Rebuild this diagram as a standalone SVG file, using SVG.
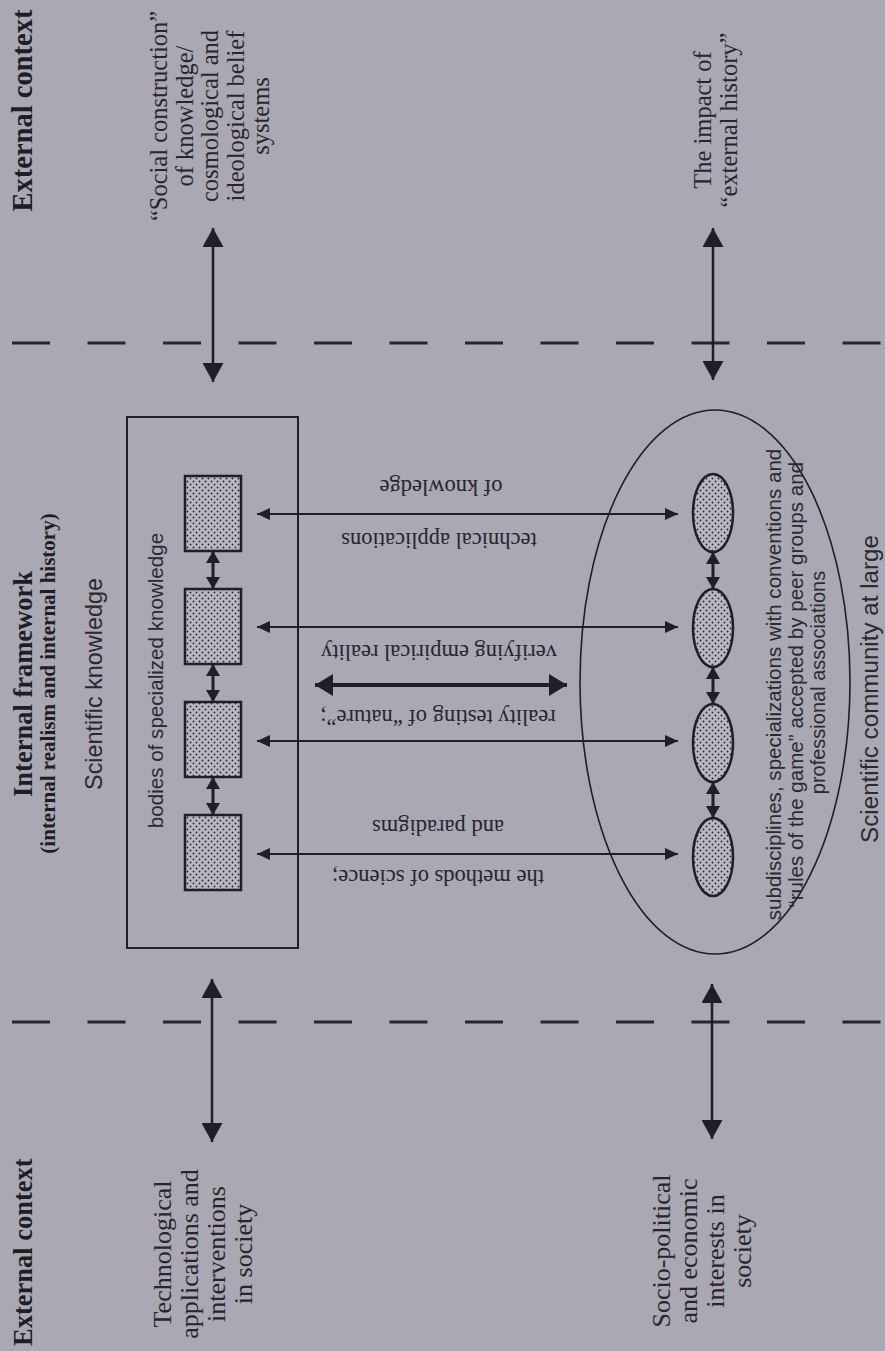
<svg xmlns="http://www.w3.org/2000/svg" width="885" height="1351" viewBox="0 0 885 1351">
<style>
.ser{font-family:"Liberation Serif","Times New Roman",serif;fill:#26262c}
.bold{font-family:"Liberation Serif","Times New Roman",serif;font-weight:bold;fill:#1e1e24}
.sans{font-family:"Liberation Sans",Arial,sans-serif;fill:#2a2a31}
.ln{stroke:#1f1f25;fill:none}
.dash{stroke:#26262c;stroke-width:3;stroke-dasharray:38 37.5}
.dot{fill:url(#dots);stroke:#1f1f25;stroke-width:2.5}
</style>
<defs>
<pattern id="dots" patternUnits="userSpaceOnUse" width="6" height="6">
<rect width="6" height="6" fill="#bab9c2"/>
<circle cx="1.5" cy="1.5" r="0.95" fill="#2a2a30"/>
<circle cx="4.5" cy="4.5" r="0.95" fill="#2a2a30"/>
</pattern>
<marker id="mBig" markerUnits="userSpaceOnUse" viewBox="0 0 19 21" markerWidth="19" markerHeight="21" refX="19" refY="10.5" orient="auto-start-reverse"><path d="M0,0 L19,10.5 L0,21 z" fill="#1f1f25"/></marker>
<marker id="mThick" markerUnits="userSpaceOnUse" viewBox="0 0 18 22" markerWidth="18" markerHeight="22" refX="18" refY="11" orient="auto-start-reverse"><path d="M0,0 L18,11 L0,22 z" fill="#1f1f25"/></marker>
<marker id="mMed" markerUnits="userSpaceOnUse" viewBox="0 0 13 12" markerWidth="13" markerHeight="12" refX="13" refY="6" orient="auto-start-reverse"><path d="M0,0 L13,6 L0,12 z" fill="#1f1f25"/></marker>
<marker id="mSmall" markerUnits="userSpaceOnUse" viewBox="0 0 12 14" markerWidth="12" markerHeight="14" refX="12" refY="7" orient="auto-start-reverse"><path d="M0,0 L12,7 L0,14 z" fill="#1f1f25"/></marker>
</defs>
<rect width="885" height="1351" fill="#a9a8b3"/>

<g id="dividers">
<line class="dash" x1="12" y1="343" x2="885" y2="343"/>
<line class="dash" x1="12" y1="1022" x2="885" y2="1022"/>
</g>

<g id="headings">
<text class="bold" font-size="28.5" text-anchor="middle" transform="translate(32,110.5) rotate(-90)">External context</text>
<text class="bold" font-size="26.5" text-anchor="middle" transform="translate(32,684) rotate(-90)">Internal framework</text>
<text class="bold" font-size="21" text-anchor="middle" transform="translate(55,683.5) rotate(-90)">(internal realism and internal history)</text>
<text class="bold" font-size="26.5" text-anchor="start" transform="translate(32,1346) rotate(-90)">External context</text>
</g>

<g id="scientific-knowledge">
<rect class="ln" x="127" y="417" width="171" height="531" stroke-width="2"/>
<text class="sans" font-size="23.4" text-anchor="middle" transform="translate(102,684) rotate(-90)">Scientific knowledge</text>
<text class="sans" font-size="20.6" text-anchor="middle" transform="translate(162.5,680.5) rotate(-90)">bodies of specialized knowledge</text>
</g>

<g id="body1"><rect class="dot" x="185" y="476" width="56" height="75"/></g>
<g id="body2"><rect class="dot" x="185" y="589" width="56" height="75"/></g>
<g id="body3"><rect class="dot" x="185" y="702" width="56" height="75"/></g>
<g id="body4"><rect class="dot" x="185" y="815" width="56" height="75"/></g>

<g id="scientific-community">
<ellipse class="ln" cx="715" cy="682" rx="135" ry="272" stroke-width="1.6"/>
<text class="sans" font-size="20.6" text-anchor="middle" transform="translate(781,684.5) rotate(-90)">subdisciplines, specializations with conventions and</text>
<text class="sans" font-size="20.6" text-anchor="middle" transform="translate(803,684.5) rotate(-90)">“rules of the game” accepted by peer groups and</text>
<text class="sans" font-size="20" text-anchor="middle" transform="translate(825,682.5) rotate(-90)">professional associations</text>
<text class="sans" font-size="24.2" text-anchor="middle" transform="translate(878,689) rotate(-90)">Scientific community at large</text>
</g>

<g id="sub1"><ellipse class="dot" cx="713" cy="513" rx="20" ry="39"/></g>
<g id="sub2"><ellipse class="dot" cx="713" cy="628" rx="20" ry="39"/></g>
<g id="sub3"><ellipse class="dot" cx="713" cy="743" rx="20" ry="39"/></g>
<g id="sub4"><ellipse class="dot" cx="713" cy="857" rx="20" ry="39"/></g>

<g id="social-construction">
<text class="ser" font-size="24.5" text-anchor="middle" transform="translate(167,116) rotate(-90)">“Social construction”</text>
<text class="ser" font-size="24.5" text-anchor="middle" transform="translate(192.5,116) rotate(-90)">of knowledge/</text>
<text class="ser" font-size="24.5" text-anchor="middle" transform="translate(218,116) rotate(-90)">cosmological and</text>
<text class="ser" font-size="24.5" text-anchor="middle" transform="translate(243.5,116) rotate(-90)">ideological belief</text>
<text class="ser" font-size="24.5" text-anchor="middle" transform="translate(269,116) rotate(-90)">systems</text>
</g>

<g id="external-history">
<text class="ser" font-size="24.5" text-anchor="middle" transform="translate(711,120) rotate(-90)">The impact of</text>
<text class="ser" font-size="24.5" text-anchor="middle" transform="translate(737,120) rotate(-90)">“external history”</text>
</g>

<g id="technological">
<text class="ser" font-size="26" text-anchor="middle" transform="translate(171,1254) rotate(-90)">Technological</text>
<text class="ser" font-size="26" text-anchor="middle" transform="translate(198,1254) rotate(-90)">applications and</text>
<text class="ser" font-size="26" text-anchor="middle" transform="translate(225,1254) rotate(-90)">interventions</text>
<text class="ser" font-size="26" text-anchor="middle" transform="translate(252,1254) rotate(-90)">in society</text>
</g>

<g id="socio-political">
<text class="ser" font-size="26" text-anchor="middle" transform="translate(670,1251) rotate(-90)">Socio-political</text>
<text class="ser" font-size="26" text-anchor="middle" transform="translate(697,1251) rotate(-90)">and economic</text>
<text class="ser" font-size="26" text-anchor="middle" transform="translate(724,1251) rotate(-90)">interests in</text>
<text class="ser" font-size="26" text-anchor="middle" transform="translate(751,1251) rotate(-90)">society</text>
</g>

<g id="connectors">
<line class="ln" x1="213" y1="228" x2="213" y2="382" stroke-width="2.5" marker-start="url(#mBig)" marker-end="url(#mBig)"/>
<line class="ln" x1="713" y1="228" x2="713" y2="380" stroke-width="2.5" marker-start="url(#mBig)" marker-end="url(#mBig)"/>
<line class="ln" x1="212" y1="979" x2="212" y2="1142" stroke-width="2.5" marker-start="url(#mBig)" marker-end="url(#mBig)"/>
<line class="ln" x1="712" y1="984" x2="712" y2="1139" stroke-width="2.5" marker-start="url(#mBig)" marker-end="url(#mBig)"/>

<line class="ln" x1="213" y1="551" x2="213" y2="589" stroke-width="3" marker-start="url(#mSmall)" marker-end="url(#mSmall)"/>
<line class="ln" x1="213" y1="664" x2="213" y2="702" stroke-width="3" marker-start="url(#mSmall)" marker-end="url(#mSmall)"/>
<line class="ln" x1="213" y1="777" x2="213" y2="815" stroke-width="3" marker-start="url(#mSmall)" marker-end="url(#mSmall)"/>

<line class="ln" x1="713" y1="552" x2="713" y2="589" stroke-width="3" marker-start="url(#mSmall)" marker-end="url(#mSmall)"/>
<line class="ln" x1="713" y1="667" x2="713" y2="704" stroke-width="3" marker-start="url(#mSmall)" marker-end="url(#mSmall)"/>
<line class="ln" x1="713" y1="782" x2="713" y2="818" stroke-width="3" marker-start="url(#mSmall)" marker-end="url(#mSmall)"/>

<line class="ln" x1="257" y1="514" x2="678" y2="514" stroke-width="2" marker-start="url(#mMed)" marker-end="url(#mMed)"/>
<line class="ln" x1="257" y1="627" x2="678" y2="627" stroke-width="2" marker-start="url(#mMed)" marker-end="url(#mMed)"/>
<line class="ln" x1="257" y1="741" x2="678" y2="741" stroke-width="2" marker-start="url(#mMed)" marker-end="url(#mMed)"/>
<line class="ln" x1="257" y1="854" x2="678" y2="854" stroke-width="2" marker-start="url(#mMed)" marker-end="url(#mMed)"/>

<line class="ln" x1="315" y1="685" x2="567" y2="685" stroke-width="4" marker-start="url(#mThick)" marker-end="url(#mThick)"/>
</g>

<g id="connector-labels">
<text class="ser" font-size="22.5" text-anchor="middle" transform="translate(441,480) rotate(180)">of knowledge</text>
<text class="ser" font-size="22.5" text-anchor="middle" transform="translate(439,533) rotate(180)">technical applications</text>
<text class="ser" font-size="22.5" text-anchor="middle" transform="translate(439,645) rotate(180)">verifying empirical reality</text>
<text class="ser" font-size="22.5" text-anchor="middle" transform="translate(438,710) rotate(180)">reality testing of “nature”;</text>
<text class="ser" font-size="22.5" text-anchor="middle" transform="translate(438,820) rotate(180)">and paradigms</text>
<text class="ser" font-size="22.5" text-anchor="middle" transform="translate(438,870) rotate(180)">the methods of science;</text>
</g>
</svg>
